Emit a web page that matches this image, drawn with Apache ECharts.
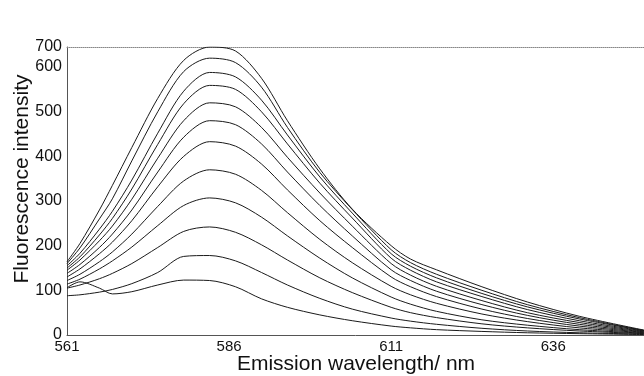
<!DOCTYPE html>
<html>
<head>
    <meta charset="utf-8">
    <title>Emission spectra</title>
    <script src="https://cdn.jsdelivr.net/npm/echarts@6/dist/echarts.min.js"></script>
    <style>
        html, body { margin: 0; padding: 0; background: #fff; }
        #chart { width: 644px; height: 376px; }
    </style>
</head>
<body>
    <div id="chart"></div>

    <script>
    // wavelength sample points (nm)
    const wavelengths = [561, 563, 566, 568, 571, 575, 579, 583, 587, 591, 595, 600, 605, 611, 614, 618, 625, 632, 640, 650];

    // one spectrum per titration step, lowest to highest
    const scan1  = [106, 119, 105,  92,  97, 112, 123, 122, 108,  81,  62,  45,  32,  20,  16,  12,   8,  5,  3,  1];
    const scan2  = [ 88,  90,  96, 102, 115, 140, 176, 178, 166, 140, 112,  82,  58,  38,  31,  24,  15,  9,  5,  2];
    const scan3  = [105, 112, 126, 138, 160, 196, 232, 242, 230, 202, 168, 128,  95,  62,  50,  39,  25, 16,  9,  3];
    const scan4  = [114, 125, 148, 166, 197, 245, 290, 307, 296, 264, 222, 172, 128,  85,  69,  53,  34, 22, 12,  4];
    const scan5  = [122, 136, 164, 186, 226, 288, 345, 370, 360, 324, 274, 214, 162, 109,  90,  71,  47, 30, 16,  5];
    const scan6  = [130, 148, 182, 208, 256, 332, 400, 433, 423, 383, 325, 256, 196, 130, 108,  86,  58, 37, 20,  6];
    const scan7  = [138, 158, 196, 226, 280, 365, 443, 480, 471, 428, 365, 290, 222, 146, 122,  98,  68, 44, 24,  7];
    const scan8  = [145, 168, 211, 244, 304, 396, 480, 520, 511, 465, 398, 318, 244, 160, 134, 109,  77, 50, 28,  8];
    const scan9  = [150, 175, 224, 261, 327, 427, 518, 559, 550, 500, 428, 340, 262, 172, 145, 119,  86, 57, 32,  9];
    const scan10 = [155, 183, 237, 277, 347, 452, 546, 588, 578, 526, 448, 354, 273, 182, 154, 128,  93, 63, 36, 10];
    const scan11 = [160, 195, 260, 305, 390, 500, 590, 620, 610, 555, 465, 364, 281, 191, 162, 136, 100, 68, 39, 10];
    const scan12 = [164, 205, 280, 335, 420, 530, 615, 645, 636, 575, 480, 372, 282, 200, 170, 146, 108, 74, 42, 11];

    const scans = [scan1, scan2, scan3, scan4, scan5, scan6, scan7, scan8, scan9, scan10, scan11, scan12];

    // axis ticks
    const xTicks = [561, 586, 611, 636];
    const xMin = 561, xMax = 650;
    const yTicks = [0, 100, 200, 300, 400, 500, 600];
    const yMax = 645;
    const yTopLabel = '700';

    const chart = echarts.init(document.getElementById('chart'), null, { renderer: 'canvas' });

    const font = 'Liberation Sans, Arial, sans-serif';

    chart.setOption({
        animation: false,
        backgroundColor: '#fff',
        grid: { left: 67, right: 0, top: 47, bottom: 41, containLabel: false, outerBoundsMode: 'none' },
        // y axis title sits a bit above the axis middle in the original
        graphic: [{
            type: 'text',
            x: 22,
            y: 179,
            rotation: Math.PI / 2,
            silent: true,
            style: {
                text: 'Fluorescence intensity',
                font: '21px ' + font,
                fill: '#111',
                align: 'center',
                verticalAlign: 'middle'
            }
        }, {
            type: 'text',
            x: 356,
            y: 364,
            silent: true,
            style: {
                text: 'Emission wavelength/ nm',
                font: '21px ' + font,
                fill: '#111',
                align: 'center',
                verticalAlign: 'middle'
            }
        }],
        xAxis: [{
            type: 'value',
            min: xMin,
            max: xMax,
            axisLine: { show: true, lineStyle: { color: '#555', width: 1 } },
            axisTick: { show: false },
            splitLine: { show: false },
            axisLabel: {
                customValues: xTicks,
                margin: 4,
                fontFamily: font,
                fontSize: 15,
                color: '#111'
            }
        }, {
            // dotted top frame
            type: 'value',
            position: 'top',
            min: xMin,
            max: xMax,
            axisLine: { show: true, lineStyle: { color: '#888', width: 1, type: 'dotted' } },
            axisTick: { show: false },
            axisLabel: { show: false },
            splitLine: { show: false }
        }],
        yAxis: {
            type: 'value',
            min: 0,
            max: yMax,
            axisLine: { show: true, lineStyle: { color: '#555', width: 1 } },
            axisTick: { show: false },
            splitLine: { show: false },
            axisLabel: {
                customValues: yTicks.concat([yMax]),
                margin: 5,
                fontFamily: font,
                fontSize: 16,
                color: '#111',
                formatter: function (v) { return v === yMax ? yTopLabel : String(v); }
            }
        },
        series: scans.map(function (s) {
            return {
                type: 'line',
                xAxisIndex: 0,
                data: wavelengths.map(function (w, i) { return [w, s[i]]; }),
                smooth: 0.3,
                showSymbol: false,
                lineStyle: { color: '#1a1a1a', width: 1 },
                silent: true
            };
        })
    });
    </script>
</body>
</html>
